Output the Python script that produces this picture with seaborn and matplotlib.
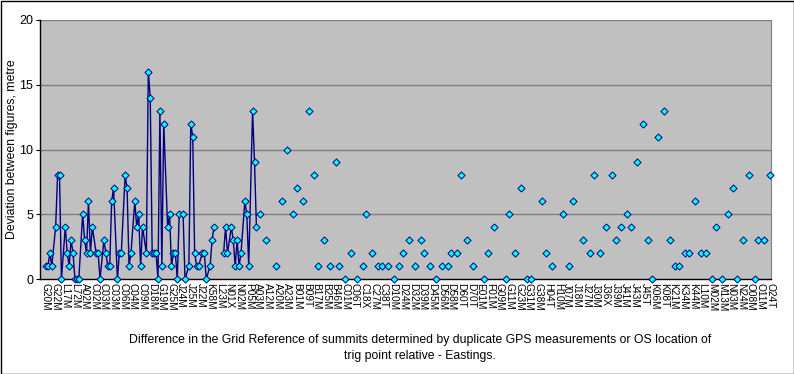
import numpy as np
import pandas as pd
import seaborn as sns
import matplotlib.pyplot as plt
from matplotlib.patches import Rectangle

# category labels shown on the axis (every 5th summit; a few unreadable ones estimated)
labels = ["G20M", "G22M", "L17M", "L72M", "A02M", "C02M", "C03M", "C03M", "C06M", "C04M",
          "C09M", "D18M", "G19M", "G25M", "J24M", "J25M", "J22M", "K58M", "L23M", "N01X",
          "N02M", "P05M", "A03M", "A12M", "A20M", "A23M", "B01M", "B09T", "B17M", "B25M",
          "B46M", "C01M", "C06T", "C18X", "C27M", "C38T", "D10M", "D24M", "D32M", "D39M",
          "D45M", "D56M", "D58M", "D60T", "D70T", "E01M", "F01M", "G09M", "G11M", "G23M",
          "G31M", "G38M", "H04T", "H10M", "J07M", "J18M", "J27M", "J30M", "J36X", "J39M",
          "J41M", "J43M", "J45T", "K06M", "K08T", "K21M", "K34M", "K44M", "L10M", "M02M",
          "M13M", "N03M", "N24M", "O08M", "O11M", "O24T"]
label_step = 5

# first block of summits (joined by a line)
run1_pos = [0, 1, 2, 3, 5, 6, 7, 8, 10, 11, 12, 13, 14, 15, 16, 17, 19, 20, 21, 22,
            23, 24, 26, 27, 28, 30, 31, 32, 33, 34, 35, 37, 38, 39, 41, 42, 43, 44, 46, 47,
            48, 49, 50, 52, 53, 54, 55, 56, 57, 58, 59, 60, 61, 63, 64, 65, 66, 67, 68, 69,
            71, 72, 74, 75, 76, 77, 78, 79, 81, 82, 83, 85, 86, 87]
run1_dev = [1, 1, 2, 1, 4, 8, 8, 0, 4, 2, 1, 3, 2, 0, 0, 0, 5, 3, 2, 6,
            2, 4, 2, 2, 0, 3, 2, 1, 1, 6, 7, 0, 2, 2, 8, 7, 1, 2, 6, 4,
            5, 1, 4, 2, 16, 14, 2, 2, 2, 0, 13, 1, 12, 4, 5, 1, 2, 2, 0, 5,
            5, 0, 1, 12, 11, 2, 1, 1, 2, 2, 0, 1, 3, 4]

# second block (joined by a line)
run2_pos = [92, 93, 94, 96, 97, 98, 99, 100, 101, 103, 104, 105, 107, 108, 109]
run2_dev = [2, 4, 2, 4, 3, 1, 3, 1, 2, 6, 5, 1, 13, 9, 4]

# remaining summits, isolated points
sparse_pos = [111, 114, 119, 122, 125, 128, 130, 133, 136, 139, 141, 144, 147, 150, 152,
              155, 158, 161, 164, 166, 169, 172, 174, 177, 180, 183, 185, 188, 191, 194,
              196, 199, 202, 205, 208, 210, 213, 215, 218, 221, 227, 229, 232, 238, 240,
              243, 246, 249, 251, 257, 259, 262, 268, 271, 273, 278, 282, 284, 287, 290,
              293, 295, 298, 301, 303, 306, 309, 312, 314, 317, 320, 323, 326, 328, 331,
              333, 336, 339, 342, 345, 347, 350, 353, 356, 358, 361, 364, 367, 369, 372, 375]
sparse_dev = [5, 3, 1, 6, 10, 5, 7, 6, 13, 8, 1, 3, 1, 9, 1,
              0, 2, 0, 1, 5, 2, 1, 1, 1, 0, 1, 2, 3, 1, 3,
              2, 1, 0, 1, 1, 2, 2, 8, 3, 1, 0, 2, 4, 0, 5,
              2, 7, 0, 0, 6, 2, 1, 5, 1, 6, 3, 2, 8, 2, 4,
              8, 3, 4, 5, 4, 9, 12, 3, 0, 11, 13, 3, 1, 1, 2,
              2, 6, 2, 2, 0, 4, 0, 5, 7, 0, 3, 8, 0, 3, 3, 8]

lines = pd.concat([
    pd.DataFrame({"pos": run1_pos, "dev": run1_dev, "run": 0}),
    pd.DataFrame({"pos": run2_pos, "dev": run2_dev, "run": 1}),
])
points = pd.concat([
    lines[["pos", "dev"]],
    pd.DataFrame({"pos": sparse_pos, "dev": sparse_dev}),
])

sns.set_style("white")
plt.rcParams["font.family"] = ["Liberation Sans", "DejaVu Sans"]
plt.rcParams["text.color"] = "black"
plt.rcParams["axes.labelcolor"] = "black"

fig = plt.figure(figsize=(7.94, 3.74), dpi=100)
ax = fig.add_axes([40 / 794, 1 - 279 / 374, 731 / 794, 259 / 374])
ax.set_facecolor("#c0c0c0")

for y in [5, 10, 15, 20]:
    ax.axhline(y, color="#808080", lw=1, zorder=1)

sns.lineplot(data=lines, x="pos", y="dev", units="run", estimator=None, sort=False,
             color="#000080", lw=1, ax=ax, legend=False, zorder=2)
sns.scatterplot(data=points, x="pos", y="dev", marker="D", s=13, color="#00ffff",
                edgecolor="#000080", linewidth=0.7, ax=ax, zorder=3, clip_on=False)

n_lab = len(labels)
ax.set_xlim(-3.1, (n_lab - 1) * label_step + 0.5)
ax.set_ylim(0, 20)
ax.set_yticks([0, 5, 10, 15, 20])
ax.set_xticks(np.arange(n_lab) * label_step)
ax.set_xticklabels(labels, rotation=270, fontsize=7.3)
ax.tick_params(axis="y", labelsize=9, length=3, left=True, color="black", labelcolor="black", pad=2)
ax.tick_params(axis="x", length=0, pad=3, labelcolor="black")

ax.spines["top"].set_visible(False)
ax.spines["right"].set_color("#808080")
for side in ["left", "bottom"]:
    ax.spines[side].set_color("black")
    ax.spines[side].set_linewidth(1)

ax.set_ylabel("Deviation between figures, metre", fontsize=8.8)
ax.yaxis.set_label_coords(-22 / 731, 0.5)
ax.set_xlabel("Difference in the Grid Reference of summits determined by duplicate GPS measurements or OS location of\ntrig point relative - Eastings.",
              fontsize=8.8, linespacing=1.5, va="top")
ax.xaxis.set_label_coords(0.52, -(334 - 279) / 259)

fig.patches.append(Rectangle((0.5 / 794, 0.5 / 374), 793 / 794, 373 / 374, transform=fig.transFigure,
                             fill=False, edgecolor="black", lw=1))

fig.savefig("out.png", dpi=100)
